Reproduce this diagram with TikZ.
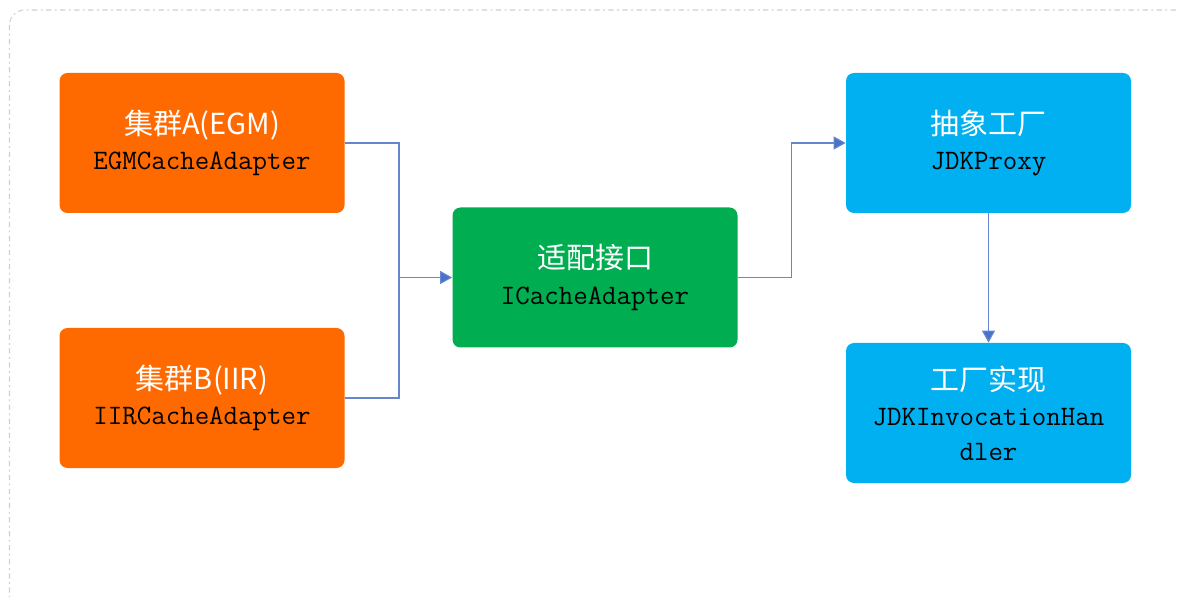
\documentclass[tikz,border=0pt]{standalone}
\usepackage{fontspec}
\usepackage{xcolor}
\usepackage{tikz}
\usetikzlibrary{arrows.meta,positioning,calc}

\newfontfamily\cjk{Noto Sans CJK SC}

\definecolor{clusterorange}{HTML}{FF6A00}
\definecolor{portgreen}{HTML}{00AD50}
\definecolor{factoryblue}{HTML}{00B0F0}
\definecolor{linkblue}{HTML}{4A72C6}
\definecolor{framegray}{HTML}{D0D0D0}

\begin{document}
\begin{tikzpicture}[
      card/.style={rectangle, rounded corners=0.16cm, minimum width=5.7cm, minimum height=2.8cm, align=center, inner sep=0pt, font=\fontsize{16}{20}\selectfont\ttfamily},
      cluster/.style={card, fill=clusterorange},
      port/.style={card, fill=portgreen},
      factory/.style={card, fill=factoryblue},
      link/.style={draw=linkblue!85, line width=0.6pt},
      arrow/.style={link, -{Triangle[length=2.4mm, width=2.6mm, fill=linkblue]}}
    ]
      \useasboundingbox (0,0) rectangle (23.56,11.92);
      \clip (0,0) rectangle (23.56,11.92);

      % Frame
      \draw[framegray, line width=0.6pt, dash pattern=on 3pt off 2pt on 1pt off 2pt, rounded corners=0.3cm] (0.19,11.72) rectangle (24.2,-0.6);

      % Clusters
      \node[cluster] (egm) at (4.04,9.06) {{\cjk\fontsize{16.5}{20}\selectfont\color{white}集群A(EGM)}\\EGMCacheAdapter};
      \node[cluster] (iir) at (4.04,3.96) {{\cjk\fontsize{16.5}{20}\selectfont\color{white}集群B(IIR)}\\IIRCacheAdapter};

      % Adapter interface
      \node[port] (adapter) at (11.9,6.37) {{\cjk\fontsize{16.5}{20}\selectfont\color{white}适配接口}\\ICacheAdapter};

      % Factory side
      \node[factory] (proxy) at (19.77,9.06) {{\cjk\fontsize{16.5}{20}\selectfont\color{white}抽象工厂}\\JDKProxy};
      \node[factory] (handler) at (19.77,3.66) {{\cjk\fontsize{16.5}{20}\selectfont\color{white}工厂实现}\\JDKInvocationHan\\dler};

      % Connectors
      \coordinate (join) at (7.98,6.37);
      \draw[link] (egm.east) -| (join);
      \draw[link] (iir.east) -| (join);
      \draw[arrow] (join) -- (adapter.west);
      \draw[arrow] (adapter.east) -- ++(1.08,0) |- (proxy.west);
      \draw[arrow] (proxy.south) -- (handler.north);
    \end{tikzpicture}
\end{document}
